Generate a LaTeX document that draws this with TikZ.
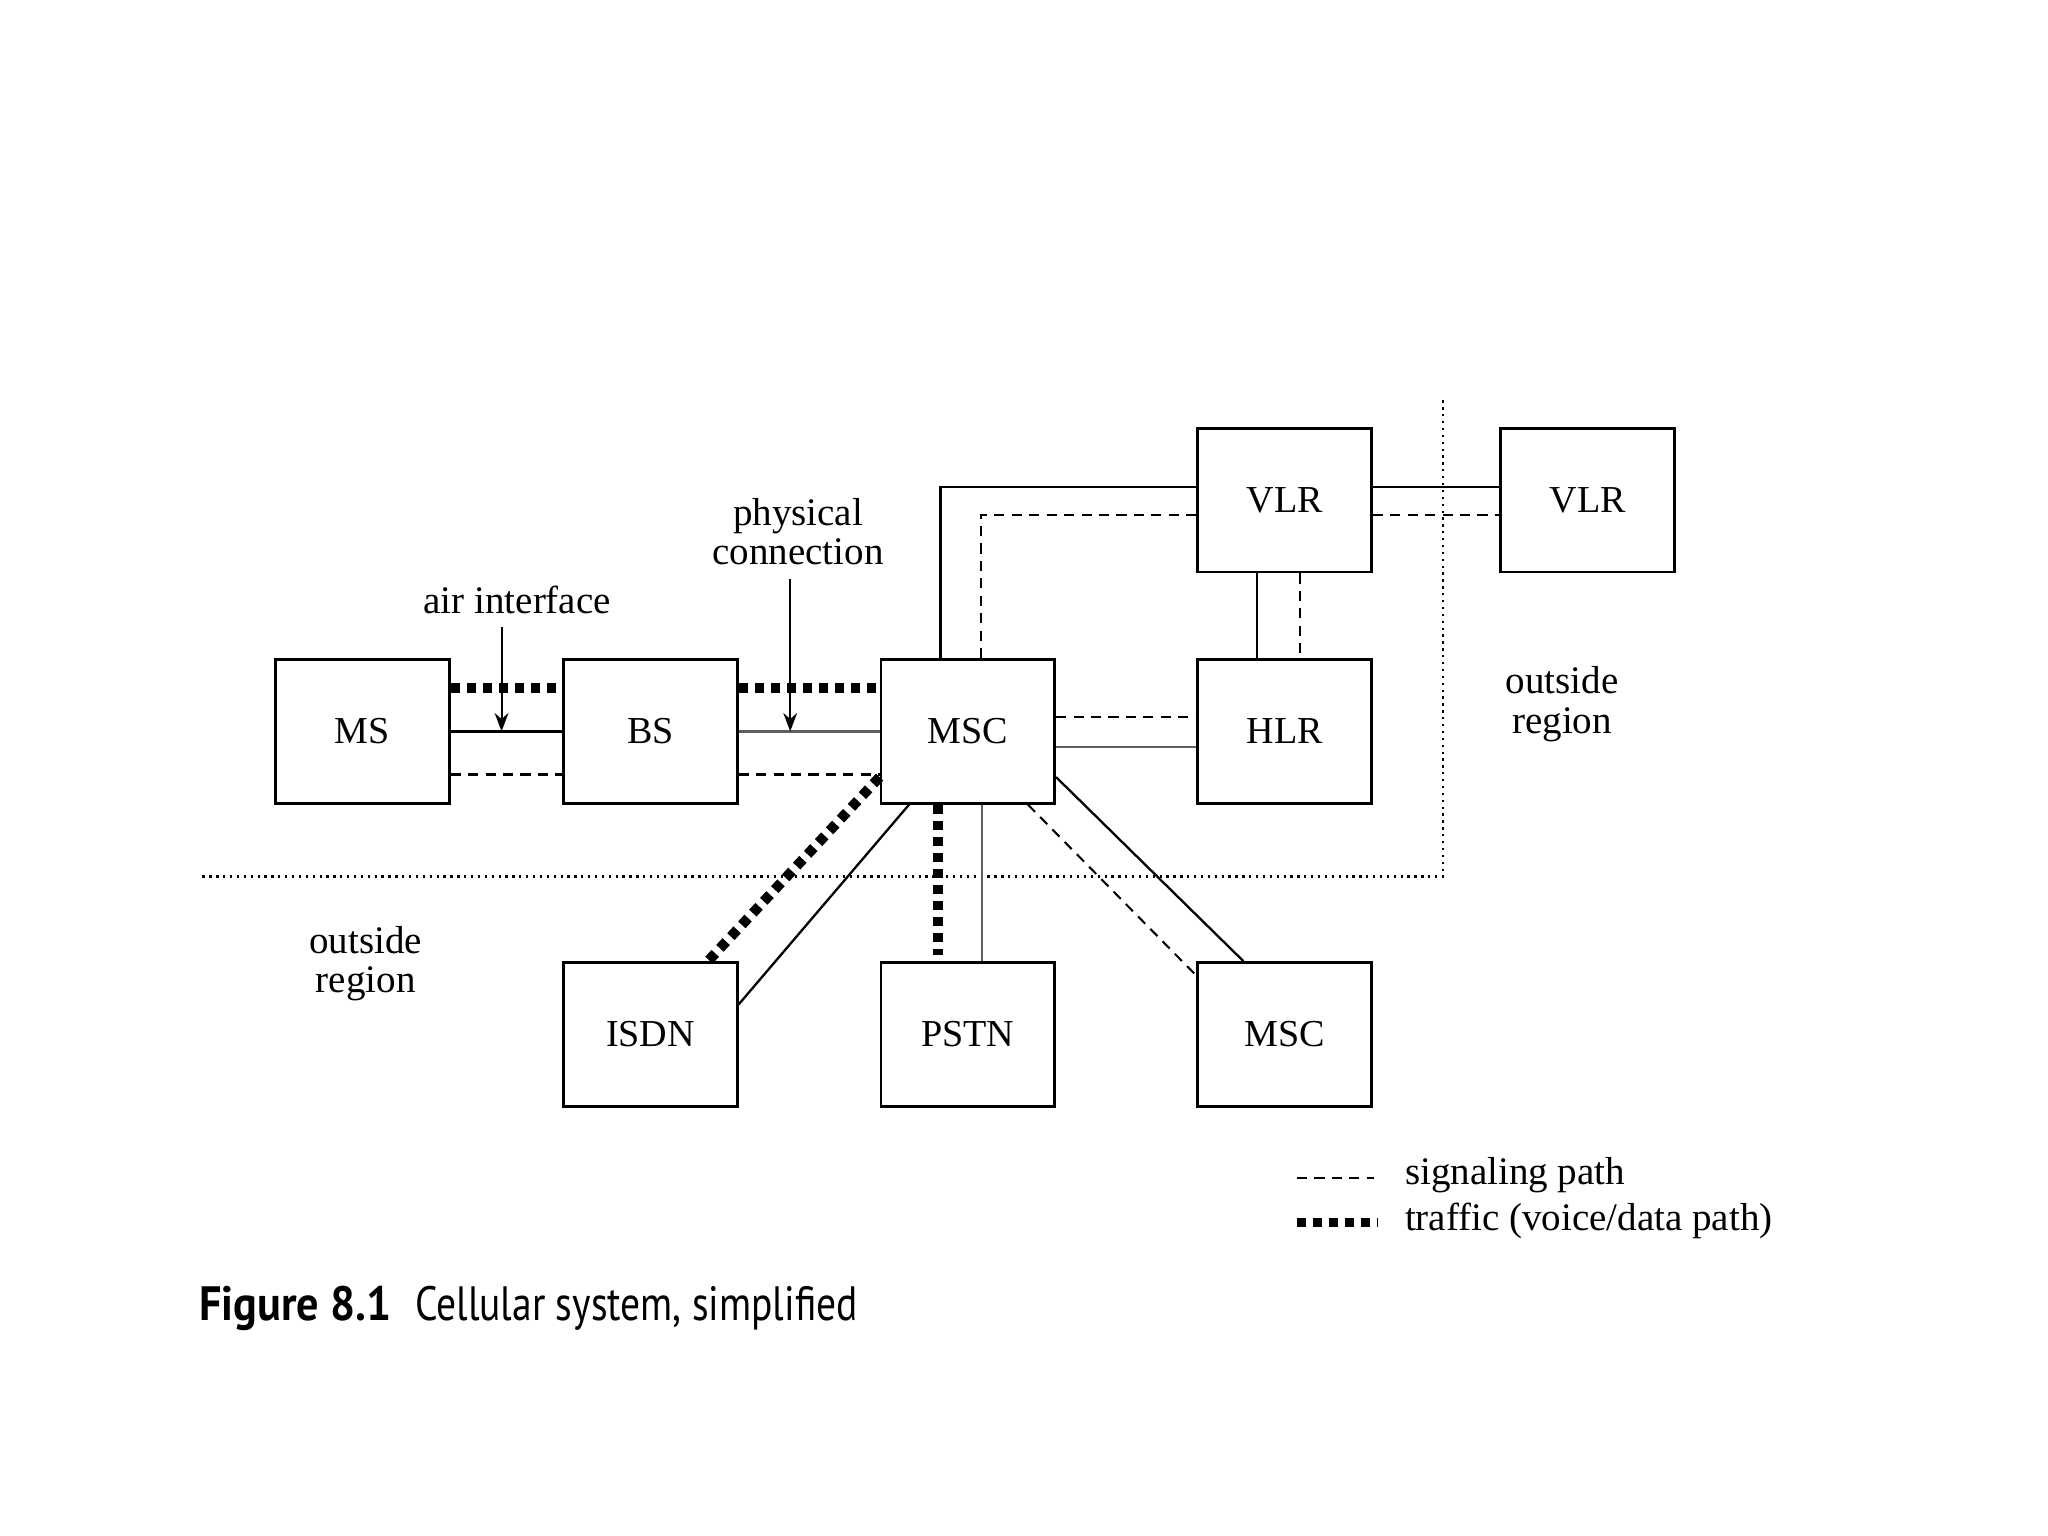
\documentclass[tikz,border=0pt]{standalone}
\usepackage{fontspec}
\setmainfont{Liberation Serif}
\newfontfamily\capfont[FakeStretch=0.82]{PT Sans}
\usepackage{tikz}
\usetikzlibrary{arrows.meta,positioning}
\definecolor{lnkgray}{RGB}{95,95,95}

\begin{document}
\begin{tikzpicture}[
    unitbox/.style={draw, line width=0.6pt, minimum width=1.33cm, minimum height=1.10cm, inner sep=0pt, font=\fontsize{8.3}{10}\selectfont},
    plain/.style={font=\fontsize{8.5}{8.6}\selectfont, align=center, inner sep=0pt},
    linkpath/.style={line width=0.5pt},
    softpath/.style={line width=0.5pt, lnkgray},
    sigpath/.style={line width=0.45pt, dash pattern=on 2.2pt off 1.6pt},
    trafpath/.style={line width=2.2pt, dash pattern=on 2pt off 1.5pt},
    pointer/.style={line width=0.45pt, -{Stealth[length=4pt,width=3pt]}},
    border/.style={line width=0.5pt, densely dotted}]
    \useasboundingbox (0,0) rectangle (15.68,11.76);

    % network elements
    \node[unitbox] (ms)   at (2.775,6.16) {MS};
    \node[unitbox] (bs)   at (4.98,6.16)  {BS};
    \node[unitbox] (msc)  at (7.41,6.16)  {MSC};
    \node[unitbox] (hlr)  at (9.835,6.16) {HLR};
    \node[unitbox] (vlr)  at (9.835,7.93) {VLR};
    \node[unitbox] (vlrb) at (12.155,7.93) {VLR};
    \node[unitbox] (isdn) at (4.98,3.84)  {ISDN};
    \node[unitbox] (pstn) at (7.41,3.84)  {PSTN};
    \node[unitbox] (mscb) at (9.835,3.84) {MSC};

    % region boundary
    \coordinate (bndw) at (1.55,5.05);
    \coordinate (bndc) at (11.05,5.05);
    \coordinate (bndn) at (11.05,8.71);
    \draw[border] (bndw) -- (bndc) -- (bndn);
    \node[plain] (outl) at (2.80,4.38) {outside\\region};
    \node[plain] (outr) at (11.96,6.37) {outside\\region};

    % MS - BS - MSC
    \draw[trafpath] ([yshift=0.33cm]ms.east) -- ([yshift=0.33cm]ms.east -| bs.west);
    \draw[linkpath] (ms.east) -- (bs.west);
    \draw[sigpath] ([yshift=-0.33cm]ms.east) -- ([yshift=-0.33cm]ms.east -| bs.west);
    \draw[trafpath] ([yshift=0.33cm]bs.east) -- ([yshift=0.33cm]bs.east -| msc.west);
    \draw[softpath] (bs.east) -- (msc.west);
    \draw[sigpath] ([yshift=-0.33cm]bs.east) -- ([yshift=-0.33cm]bs.east -| msc.west);

    % labels with pointers
    \node[plain] (air) at (3.96,7.17) {air interface};
    \coordinate (airtip) at (3.84,6.16);
    \draw[pointer] (airtip |- air.south) ++(0,-0.1) -- (airtip);
    \node[plain] (phys) at (6.11,7.69) {physical\\connection};
    \coordinate (phystip) at (6.05,6.16);
    \draw[pointer] (phystip |- phys.south) ++(0,-0.1) -- (phystip);

    % MSC - VLR - HLR
    \draw[linkpath] ([xshift=-0.21cm]msc.north) |- ([yshift=0.10cm]vlr.west);
    \draw[sigpath] ([xshift=0.10cm]msc.north) |- ([yshift=-0.11cm]vlr.west);
    \draw[linkpath] ([xshift=-0.21cm]vlr.south) -- ([xshift=-0.21cm]hlr.north);
    \draw[sigpath] ([xshift=0.12cm]vlr.south) -- ([xshift=0.12cm]hlr.north);
    \draw[sigpath] ([yshift=0.11cm]msc.east) -- ([yshift=0.11cm]hlr.west);
    \draw[softpath] ([yshift=-0.12cm]msc.east) -- ([yshift=-0.12cm]hlr.west);
    \draw[linkpath] ([yshift=0.10cm]vlr.east) -- ([yshift=0.10cm]vlrb.west);
    \draw[sigpath] ([yshift=-0.11cm]vlr.east) -- ([yshift=-0.11cm]vlrb.west);

    % MSC to outside networks
    \draw[trafpath] ([yshift=-0.35cm]msc.west) -- ([xshift=0.44cm]isdn.north);
    \draw[linkpath] ([xshift=-0.45cm]msc.south) -- ([yshift=0.23cm]isdn.east);
    \draw[trafpath] ([xshift=-0.23cm]msc.south) -- ([xshift=-0.23cm,yshift=0.05cm]pstn.north);
    \draw[softpath] ([xshift=0.11cm]msc.south) -- ([xshift=0.11cm]pstn.north);
    \draw[sigpath] ([xshift=0.46cm]msc.south) -- ([yshift=0.45cm]mscb.west);
    \draw[linkpath] ([yshift=-0.35cm]msc.east) -- ([xshift=-0.315cm]mscb.north);

    % legend
    \coordinate (sigA) at (9.93,2.74);
    \coordinate (sigB) at (10.52,2.74);
    \coordinate (trfA) at (9.93,2.40);
    \coordinate (trfB) at (10.55,2.40);
    \draw[sigpath, line width=0.35pt] (sigA) -- (sigB);
    \draw[trafpath, line width=2pt] (trfA) -- (trfB);
    \node[plain, anchor=west] (siglbl) at (10.75,2.76) {signaling path};
    \node[plain, anchor=west] (trflbl) at (10.75,2.41) {traffic (voice/data path)};

    % caption
    \node[anchor=west, inner sep=0pt, font=\capfont\fontsize{10.5}{12}\selectfont] (cap) at (1.52,1.74)
        {\scalebox{1.12}[1]{\textbf{Figure 8.1}}\hspace{0.18cm}Cellular system, simplified};
\end{tikzpicture}
\end{document}
